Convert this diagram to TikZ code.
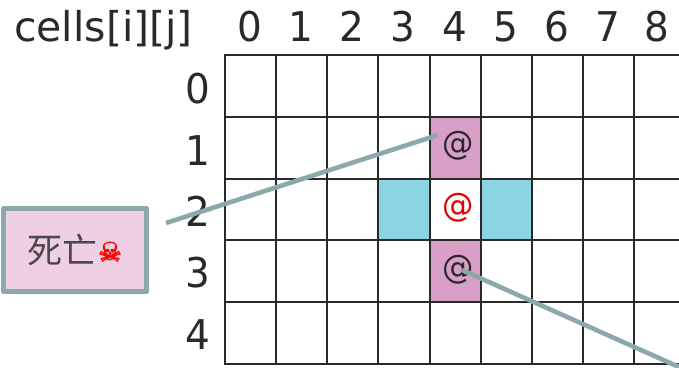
\documentclass[tikz,border=0pt]{standalone}
\usepackage{fontspec}
\setmainfont[FakeStretch=0.95]{DejaVu Sans}
\newfontfamily\cjkfont{Noto Sans CJK SC}
\newfontfamily\symfont[FakeBold=2]{DejaVu Sans}
\usepackage{xcolor}
\usetikzlibrary{positioning}
\definecolor{gridcol}{HTML}{2B2829}
\definecolor{linkcol}{HTML}{8CA8AA}
\definecolor{boxpink}{HTML}{EFCFE3}
\definecolor{cellpink}{HTML}{D89FC6}
\definecolor{cellblue}{HTML}{8AD4E2}
\tikzset{
    idx/.style = {anchor=base, inner sep=0pt, text=gridcol, font=\fontsize{41}{41}\selectfont},
    cell/.style = {minimum width=51pt, minimum height=61.5pt, inner sep=0pt},
    atsign/.style = {inner sep=0pt, font=\fontsize{33}{33}\selectfont},
    link/.style = {draw=linkcol, line width=4.6pt},
    deadbox/.style = {draw=linkcol, fill=boxpink, line width=4.6pt, line join=round, minimum width=143pt, minimum height=83pt, inner sep=0pt}
}

\begin{document}
\begin{tikzpicture}[x=1pt,y=-1pt]
  \useasboundingbox (0,0) rectangle (679,367);

  % Draw the coloured cells
  \node[cell, fill=cellpink] (north) at (455.5,148) {};
  \node[cell, fill=cellblue] (west) at (404.5,209.5) {};
  \node[cell, fill=cellblue] (east) at (506.5,209.5) {};
  \node[cell, fill=cellpink] (south) at (455.5,271) {};

  % Draw the grid
  \foreach \y in {55,116.8,178.6,240.4,302.2,364}
    \draw[gridcol, line width=2pt] (224,\y) -- (679,\y);
  \foreach \x in {225,276,327,378,430,481,532,583,634}
    \draw[gridcol, line width=2pt] (\x,54) -- (\x,365);

  % Draw the labels
  \node[idx] (title) at (103.5,41) {\addfontfeature{FakeStretch=1.0}cells[i][j]};
  \foreach \j/\x in {0/250,1/301,2/352,3/403,4/455,5/506,6/557,7/608,8/657}
    \node[idx] (col\j) at (\x,41) {\j};
  \foreach \i/\y in {0/103,1/165,2/226,3/287,4/349}
    \node[idx] (row\i) at (198,\y) {\i};

  % Draw the characters
  \node[atsign, text=gridcol] (up) at (458.5,146) {@};
  \node[atsign, text=red!90!black] (mid) at (458.5,208) {@};
  \node[atsign, text=gridcol] (down) at (458.5,270) {@};

  % Draw the box
  \node[deadbox] (dead) at (75,250) {{\fontsize{35}{35}\cjkfont\textcolor{gridcol!85}{死亡}}{\fontsize{27}{27}\symfont\textcolor{red}{\raisebox{2pt}{☠}}}};

  % Draw the arrows
  \coordinate (linkA) at (166,223);
  \coordinate (linkB) at (438,135);
  \coordinate (linkC) at (462,270);
  \coordinate (linkD) at (679,367);
  \draw[link] (linkA) -- (linkB);
  \draw[link] (linkC) -- (linkD);
\end{tikzpicture}
\end{document}
